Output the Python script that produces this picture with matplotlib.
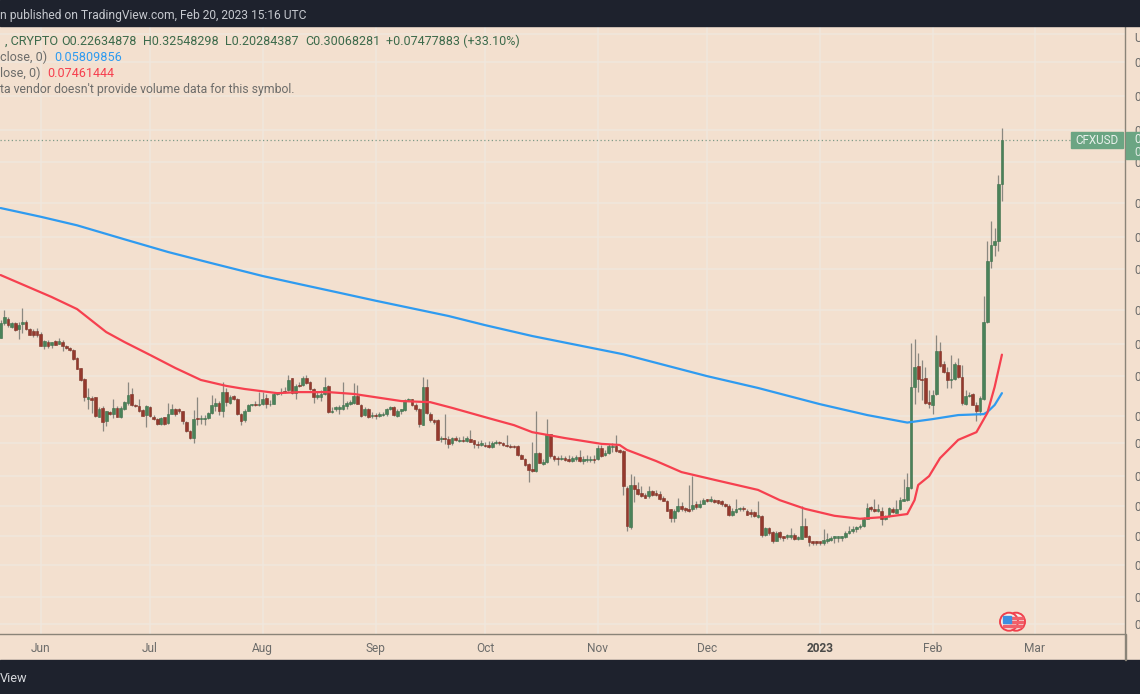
import numpy as np
import pandas as pd
import matplotlib
matplotlib.use("Agg")
import matplotlib.pyplot as plt
from matplotlib.patches import Circle, Rectangle

# ---------- data ----------
start_date = "2022-05-21"
opens = [
 .0830,.0917,.0943,.0895,.0914,.0882,.0910,.0925,.0880,.0870,
 .0868,.0855,.0787,.0812,.0792,.0814,.0801,.0811,.0787,.0778,
 .0769,.0729,.0683,.0636,.0560,.0563,.0566,.0499,.0529,.0486,
 .0514,.0508,.0529,.0497,.0524,.0546,.0578,.0538,.0536,.0520,
 .0503,.0531,.0499,.0491,.0475,.0497,.0479,.0508,.0524,.0523,
 .0516,.0483,.0455,.0434,.0492,.0490,.0490,.0495,.0510,.0533,
 .0546,.0518,.0584,.0546,.0569,.0560,.0507,.0488,.0519,.0538,
 .0542,.0538,.0542,.0562,.0540,.0543,.0577,.0582,.0590,.0593,
 .0640,.0581,.0613,.0612,.0642,.0624,.0595,.0567,.0567,.0577,
 .0608,.0514,.0525,.0525,.0525,.0536,.0543,.0544,.0572,.0539,
 .0503,.0525,.0501,.0503,.0501,.0503,.0506,.0523,.0531,.0501,
 .0518,.0520,.0554,.0559,.0537,.0525,.0474,.0605,.0509,.0487,
 .0489,.0432,.0434,.0432,.0419,.0433,.0426,.0428,.0426,.0432,
 .0428,.0418,.0416,.0416,.0414,.0410,.0419,.0423,.0420,.0414,
 .0413,.0412,.0411,.0389,.0380,.0367,.0353,.0351,.0394,.0366,
 .0372,.0445,.0386,.0380,.0379,.0382,.0380,.0373,.0380,.0383,
 .0374,.0376,.0376,.0378,.0378,.0407,.0389,.0393,.0410,.0412,
 .0401,.0399,.0314,.0243,.0320,.0311,.0304,.0300,.0297,.0307,
 .0304,.0302,.0294,.0289,.0273,.0258,.0270,.0280,.0274,.0273,
 .0273,.0282,.0278,.0283,.0291,.0289,.0291,.0290,.0288,.0282,
 .0280,.0264,.0269,.0273,.0274,.0270,.0268,.0268,.0260,.0262,
 .0232,.0242,.0236,.0223,.0236,.0229,.0228,.0229,.0231,.0225,
 .0226,.0246,.0230,.0222,.0221,.0220,.0219,.0223,.0224,.0227,
 .0227,.0227,.0228,.0234,.0237,.0241,.0243,.0245,.0257,.0277,
 .0274,.0270,.0271,.0256,.0262,.0274,.0267,.0273,.0289,.0291,
 .0314,.0606,.0693,.0636,.0640,.0549,.0539,.0576,.0763,.0702,
 .0668,.0633,.0636,.0698,.0647,.0541,.0570,.0577,.0539,.0517,
 .0558,.0923,.1373,.1521,.1560,.2263]
highs = [
 .0934,.0997,.0954,.0923,.0923,.0923,.1008,.0934,.0885,.0880,
 .0885,.0866,.0821,.0818,.0812,.0821,.0833,.0818,.0796,.0783,
 .0774,.0733,.0686,.0640,.0600,.0569,.0567,.0530,.0533,.0519,
 .0518,.0560,.0533,.0533,.0553,.0626,.0600,.0542,.0560,.0524,
 .0538,.0536,.0505,.0494,.0499,.0499,.0545,.0542,.0529,.0528,
 .0519,.0486,.0457,.0521,.0566,.0505,.0505,.0515,.0574,.0563,
 .0551,.0626,.0600,.0574,.0574,.0563,.0510,.0524,.0542,.0542,
 .0551,.0584,.0584,.0579,.0556,.0581,.0587,.0600,.0604,.0653,
 .0643,.0617,.0625,.0649,.0655,.0630,.0599,.0586,.0593,.0647,
 .0612,.0531,.0533,.0537,.0623,.0552,.0555,.0619,.0612,.0543,
 .0531,.0529,.0514,.0511,.0514,.0514,.0528,.0533,.0533,.0525,
 .0525,.0561,.0564,.0561,.0545,.0529,.0647,.0636,.0513,.0492,
 .0491,.0439,.0506,.0441,.0437,.0439,.0437,.0439,.0439,.0457,
 .0430,.0426,.0428,.0423,.0426,.0426,.0428,.0425,.0423,.0442,
 .0417,.0416,.0414,.0392,.0382,.0370,.0423,.0517,.0396,.0378,
 .0490,.0447,.0389,.0386,.0390,.0386,.0390,.0386,.0390,.0401,
 .0386,.0389,.0386,.0389,.0414,.0414,.0401,.0417,.0419,.0442,
 .0405,.0401,.0317,.0344,.0339,.0327,.0317,.0304,.0317,.0310,
 .0310,.0307,.0297,.0291,.0274,.0274,.0294,.0286,.0278,.0320,
 .0339,.0288,.0291,.0294,.0293,.0297,.0293,.0291,.0291,.0284,
 .0282,.0276,.0292,.0278,.0280,.0273,.0274,.0271,.0289,.0263,
 .0243,.0243,.0237,.0237,.0237,.0230,.0233,.0242,.0234,.0230,
 .0280,.0258,.0231,.0223,.0223,.0221,.0240,.0234,.0230,.0230,
 .0230,.0230,.0237,.0246,.0245,.0246,.0249,.0260,.0284,.0280,
 .0292,.0282,.0278,.0264,.0278,.0278,.0291,.0296,.0333,.0345,
 .0806,.0825,.0754,.0721,.0690,.0593,.0593,.0848,.0812,.0718,
 .0690,.0745,.0713,.0730,.0698,.0593,.0586,.0582,.0550,.0569,
 .1093,.1564,.1777,.1701,.2396,.3255]
lows = [
 .0830,.0905,.0895,.0885,.0872,.0825,.0857,.0876,.0846,.0839,
 .0839,.0787,.0774,.0778,.0778,.0792,.0799,.0764,.0774,.0766,
 .0721,.0678,.0630,.0551,.0524,.0510,.0499,.0497,.0454,.0469,
 .0505,.0494,.0497,.0496,.0521,.0538,.0536,.0530,.0515,.0500,
 .0466,.0499,.0488,.0473,.0473,.0472,.0476,.0506,.0500,.0510,
 .0476,.0452,.0431,.0420,.0473,.0476,.0473,.0490,.0508,.0516,
 .0505,.0499,.0536,.0542,.0556,.0505,.0473,.0483,.0516,.0533,
 .0533,.0536,.0538,.0527,.0536,.0541,.0574,.0574,.0581,.0590,
 .0578,.0561,.0604,.0608,.0616,.0593,.0545,.0561,.0552,.0573,
 .0512,.0511,.0518,.0509,.0520,.0525,.0539,.0541,.0541,.0498,
 .0500,.0496,.0495,.0490,.0498,.0500,.0502,.0520,.0501,.0498,
 .0509,.0518,.0551,.0535,.0519,.0465,.0472,.0509,.0482,.0477,
 .0428,.0423,.0417,.0407,.0416,.0426,.0423,.0423,.0423,.0423,
 .0408,.0408,.0413,.0410,.0408,.0408,.0417,.0415,.0412,.0409,
 .0408,.0407,.0387,.0378,.0363,.0327,.0348,.0348,.0368,.0364,
 .0370,.0382,.0374,.0364,.0376,.0374,.0372,.0372,.0374,.0372,
 .0366,.0372,.0372,.0370,.0376,.0384,.0386,.0391,.0397,.0397,
 .0395,.0299,.0237,.0241,.0286,.0300,.0296,.0294,.0295,.0297,
 .0297,.0291,.0288,.0270,.0251,.0251,.0269,.0271,.0268,.0268,
 .0271,.0273,.0276,.0282,.0286,.0286,.0285,.0283,.0279,.0277,
 .0262,.0262,.0267,.0271,.0271,.0263,.0260,.0260,.0259,.0229,
 .0230,.0232,.0220,.0222,.0226,.0222,.0226,.0225,.0224,.0224,
 .0225,.0228,.0216,.0217,.0217,.0217,.0217,.0220,.0223,.0220,
 .0221,.0223,.0227,.0233,.0234,.0236,.0241,.0244,.0256,.0271,
 .0269,.0268,.0247,.0255,.0260,.0267,.0266,.0272,.0288,.0289,
 .0312,.0541,.0584,.0556,.0541,.0527,.0507,.0575,.0690,.0661,
 .0600,.0601,.0633,.0641,.0538,.0538,.0567,.0538,.0485,.0505,
 .0556,.0914,.1310,.1416,.1465,.2028]
closes = [
 .0917,.0950,.0905,.0914,.0876,.0905,.0923,.0880,.0848,.0848,
 .0846,.0791,.0816,.0791,.0809,.0796,.0814,.0787,.0778,.0771,
 .0724,.0680,.0633,.0566,.0568,.0556,.0501,.0525,.0483,.0516,
 .0509,.0529,.0498,.0527,.0549,.0575,.0538,.0533,.0518,.0502,
 .0534,.0501,.0490,.0475,.0494,.0475,.0508,.0524,.0508,.0518,
 .0486,.0455,.0433,.0491,.0490,.0495,.0495,.0510,.0538,.0546,
 .0519,.0585,.0549,.0567,.0561,.0508,.0486,.0519,.0538,.0540,
 .0538,.0543,.0560,.0540,.0543,.0578,.0581,.0587,.0586,.0633,
 .0581,.0609,.0609,.0641,.0622,.0596,.0567,.0575,.0577,.0605,
 .0514,.0519,.0530,.0530,.0537,.0545,.0549,.0572,.0543,.0501,
 .0525,.0498,.0505,.0500,.0506,.0509,.0523,.0531,.0503,.0518,
 .0523,.0555,.0559,.0537,.0523,.0477,.0605,.0511,.0487,.0483,
 .0430,.0435,.0431,.0417,.0434,.0430,.0429,.0425,.0434,.0424,
 .0417,.0415,.0419,.0413,.0410,.0421,.0423,.0420,.0415,.0411,
 .0410,.0409,.0389,.0379,.0365,.0353,.0351,.0395,.0370,.0372,
 .0445,.0386,.0379,.0378,.0381,.0377,.0373,.0382,.0383,.0374,
 .0379,.0378,.0378,.0376,.0406,.0386,.0395,.0413,.0412,.0399,
 .0397,.0317,.0245,.0319,.0311,.0302,.0298,.0295,.0308,.0299,
 .0299,.0293,.0289,.0271,.0258,.0270,.0280,.0273,.0272,.0271,
 .0281,.0278,.0283,.0291,.0289,.0291,.0287,.0285,.0282,.0280,
 .0264,.0271,.0274,.0275,.0273,.0264,.0265,.0261,.0262,.0231,
 .0242,.0234,.0222,.0235,.0229,.0227,.0229,.0231,.0225,.0228,
 .0245,.0229,.0221,.0220,.0219,.0219,.0224,.0225,.0227,.0228,
 .0228,.0228,.0235,.0237,.0241,.0244,.0246,.0257,.0275,.0273,
 .0271,.0273,.0257,.0262,.0275,.0268,.0274,.0290,.0292,.0316,
 .0606,.0690,.0636,.0631,.0544,.0541,.0575,.0763,.0693,.0666,
 .0633,.0637,.0701,.0647,.0544,.0570,.0573,.0539,.0517,.0562,
 .0923,.1373,.1521,.1560,.2263,.3007]

ema200_day = [0,11,21,34,46,57,72,82,92,103,123,133,146,171,194,208,225,238,249,256,263,270,271,273,275]
ema200_val = [.1933,.1827,.1728,.1578,.1453,.1359,.1243,.1180,.1121,.1059,.0959,.0904,.0842,.0748,.0649,.0601,.0541,.0504,.0480,.0491,.0504,.0507,.0514,.0538,.0581]
ema50_day = [0,14,21,29,34,41,48,55,62,67,76,82,90,97,110,118,124,134,141,146,155,165,170,172,180,187,196,208,214,221,229,236,243,249,251,252,255,258,263,268,271,273,275]
ema50_val = [.1251,.1085,.1003,.0864,.0810,.0745,.0684,.0633,.0609,.0597,.0581,.0585,.0585,.0578,.0552,.0548,.0528,.0494,.0472,.0451,.0434,.0418,.0415,.0402,.0374,.0348,.0331,.0310,.0290,.0274,.0262,.0257,.0260,.0265,.0290,.0320,.0339,.0381,.0429,.0451,.0511,.0605,.0746]

price_ticks = [.60,.50,.40,.32,.26,.20,.16,.13,.10,.08,.065,.05,.042,.034,.028,.023,.019,.0155,.013]
# The screenshot cuts the price scale after its first character.
price_tick_labels = ["", "0", "0", "0", "0", "0", "0", "0", "0", "0", "0", "0", "0", "0", "0", "0", "0", "0", "0"]
month_ticks = ["2022-06-01","2022-07-01","2022-08-01","2022-09-01","2022-10-01","2022-11-01","2022-12-01","2023-01-01","2023-02-01","2023-03-01"]
month_labels = ["Jun","Jul","Aug","Sep","Oct","Nov","Dec","2023","Feb","Mar"]
last_close = 0.30068281

# ---------- style ----------
BG = "#f3e0cf"
GRID = "#f0e7dd"
DARK = "#1e222d"
UP = "#4a8259"
UP_E = "#3c6f4b"
DOWN = "#95392d"
DOWN_E = "#7d3025"
WICK = "#8b8880"
BLUE = "#2f9bf0"
RED = "#f6404f"
TAG = "#6ba583"
AXIS = "#8a8478"
TXT = "#6c6c6a"
FONT = ["Roboto", "DejaVu Sans"]
plt.rcParams["font.family"] = FONT

W, H = 1140, 694
fig = plt.figure(figsize=(W/100, H/100), dpi=100, facecolor=BG)
ax = fig.add_axes([0, (H-634)/H, 1125/W, 608/H], facecolor=BG)

dates = pd.date_range(start_date, periods=len(opens))
o, h, l, c = map(np.array, (opens, highs, lows, closes))
up = c >= o

ax.set_yscale("log")
ax.set_ylim(0.01216, 0.6305)
ax.set_xlim(dates[0] - pd.Timedelta(hours=4), dates[0] + pd.Timedelta(days=308.8))

ax.vlines(dates, l, h, color=WICK, lw=0.9, zorder=2)
body_b = np.minimum(o, c)
body_h = np.maximum(np.abs(c - o), 0.0003)
ax.bar(dates[up], body_h[up], bottom=body_b[up], width=0.75, color=UP, edgecolor=UP_E, lw=0.4, zorder=3)
ax.bar(dates[~up], body_h[~up], bottom=body_b[~up], width=0.75, color=DOWN, edgecolor=DOWN_E, lw=0.4, zorder=3)

ax.plot(dates[ema200_day], ema200_val, color=BLUE, lw=1.6, zorder=4, solid_capstyle="round")
ax.plot(dates[ema50_day], ema50_val, color=RED, lw=1.6, zorder=4, solid_capstyle="round")
ax.axhline(last_close, color="#7f9c88", lw=0.9, ls=(0, (1, 2)), zorder=1, xmax=1071/1125)

ax.yaxis.tick_right()
ax.minorticks_off()
ax.set_yticks(price_ticks)
ax.set_yticklabels(price_tick_labels, fontsize=8.6, color=TXT)
ax.set_xticks(pd.to_datetime(month_ticks))
ax.set_xticklabels(month_labels, fontsize=8.6, color=TXT)
for t in ax.get_xticklabels():
    if t.get_text() == "2023":
        t.set_fontweight("bold"); t.set_color("#4a4a48")
ax.tick_params(axis="both", length=0, pad=6.5)
ax.tick_params(axis="x", pad=5.5)
ax.grid(True, color=GRID, lw=1.1, zorder=0)
ax.set_axisbelow(True)
for s in ("top", "left"):
    ax.spines[s].set_visible(False)
for s in ("right", "bottom"):
    ax.spines[s].set_color(AXIS); ax.spines[s].set_linewidth(1.0)

# overlay in pixel coordinates for the surrounding screenshot furniture
ov = fig.add_axes([0, 0, 1, 1], facecolor="none")
ov.set_xlim(0, W); ov.set_ylim(H, 0); ov.axis("off")
ov.add_patch(Rectangle((0, 0), W, 25.5, color=DARK, zorder=5))
ov.add_patch(Rectangle((0, 660), W, 34, color=DARK, zorder=5))
ov.add_patch(Rectangle((1125, 634), 1, 26, color=AXIS, zorder=5))
ov.text(0, 15, "n published on TradingView.com, Feb 20, 2023 15:16 UTC", color="#c6c9cf", fontsize=8.65, va="center", zorder=6)
ov.text(0, 678, "View", color="#d5d7db", fontsize=9.2, va="center", zorder=6)

gr = "#3c6a4b"
ov.text(5, 41, ", CRYPTO", color=gr, fontsize=9.1, va="center")
for x, s in [(61, "O0.22634878"), (143, "H0.32548298"), (225, "L0.20284387"), (305, "C0.30068281"), (386, "+0.07477883 (+33.10%)")]:
    ov.text(x, 41, s, color=gr, fontsize=9.0, va="center")
ov.text(0, 57, "close, 0)", color=TXT, fontsize=9.0, va="center")
ov.text(54, 57, "0.05809856", color=BLUE, fontsize=9.1, va="center")
ov.text(0, 73, "lose, 0)", color=TXT, fontsize=9.0, va="center")
ov.text(47, 73, "0.07461444", color=RED, fontsize=9.1, va="center")
ov.text(0, 89.5, "ta vendor doesn't provide volume data for this symbol.", color=TXT, fontsize=8.85, va="center")
ov.text(1134, 38, "U", color=TXT, fontsize=8.6, va="center")

ov.add_patch(Rectangle((1071, 132), 52, 16, color=TAG, zorder=5))
ov.text(1097, 140, "CFXUSD", color="#e9f1ec", fontsize=8.4, ha="center", va="center", zorder=6)
ov.add_patch(Rectangle((1126, 132), 14, 27, color=TAG, zorder=5))
ov.text(1134, 139, "0", color="#e9f1ec", fontsize=8.6, va="center", zorder=6)
ov.text(1134, 152, "0", color="#dfeae3", fontsize=8.6, va="center", zorder=6)

# economic-event flags
for cx in (1016, 1009):
    ov.add_patch(Circle((cx, 621.7), 9, facecolor="#f6f0ea", edgecolor="#f0404c", lw=1.4, zorder=5))
    for dy in (-4, 0, 4):
        ov.add_patch(Rectangle((cx + (0 if dy < 4 else -6), 621 + dy), 7 if dy < 4 else 12, 1.8, color="#f0606a", zorder=6))
ov.add_patch(Rectangle((1003, 615.5), 7.5, 7, color="#3d8fe0", zorder=7))

fig.savefig("out.png", dpi=100, facecolor=BG)
